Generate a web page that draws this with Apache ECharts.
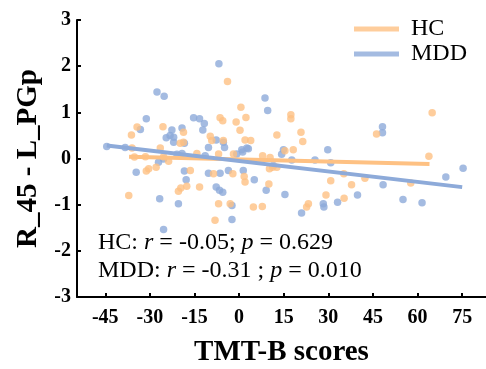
<!DOCTYPE html>
<html>
<head>
<meta charset="utf-8">
<script src="https://cdn.jsdelivr.net/npm/echarts@6/dist/echarts.min.js"></script>
<style>
  html, body { margin: 0; padding: 0; background: #fff; }
  #chart { width: 486px; height: 369px; }
</style>
</head>
<body>
<div id="chart"></div>
<script>
// HC group: [TMT-B score, connectivity]
const hcPoints = [
  [-34.3, 0.68], [-36.2, 0.51], [-25.6, 0.69], [-36.0, 0.23], [-26.5, 0.23],
  [-3.9, 1.67], [-6.4, 0.88], [-5.5, 0.82], [0.6, 1.11], [0.3, 0.61],
  [-18.7, 0.57], [-18.7, 0.35], [-19.8, 0.33], [-9.7, 0.48], [-9.2, 0.39],
  [-5.3, 0.39], [-1.0, 0.79], [2.3, 0.89], [17.4, 0.95], [17.4, 0.86],
  [12.7, 0.51], [20.8, 0.57], [21.4, 0.37], [2.0, 0.40], [3.9, 0.39],
  [18.2, 0.19], [64.9, 0.99], [46.2, 0.53], [63.8, 0.05], [7.9, 0.06],
  [10.4, 0.02], [10.2, -0.22], [12.7, -0.19], [11.3, -0.19], [2.0, -0.51],
  [1.7, -0.39], [-2.1, -0.33], [10.0, -0.55], [35.2, -0.33], [42.3, -0.43],
  [30.8, -0.48], [37.8, -0.57], [57.7, -0.53], [29.2, -0.79], [35.3, -0.86],
  [23.3, -0.98], [22.7, -1.05], [4.8, -1.05], [7.8, -1.04], [-35.2, 0.03],
  [-31.5, 0.04], [-25.4, 0.04], [-23.7, -0.06], [-31.2, -0.27], [-30.4, -0.22],
  [-27.9, -0.19], [-16.4, -0.26], [-20.4, -0.71], [-17.6, -0.60], [-13.3, -0.62],
  [-37.1, -0.80], [-8.6, -0.33], [-6.9, -0.98], [-3.0, -0.98], [-8.1, -1.34],
  [-14.2, 0.11], [-6.9, 0.10], [-1.9, 0.10], [15.4, 0.17], [-19.6, -0.64]
];

// MDD group
const mddPoints = [
  [-44.5, 0.26], [-38.3, 0.24], [-27.6, 1.44], [-25.2, 1.35], [-31.2, 0.86],
  [-33.2, 0.63], [-24.5, 0.45], [-22.6, 0.62], [-23.2, 0.50], [-22.0, 0.46],
  [-19.2, 0.66], [-18.4, 0.33], [-15.3, 0.88], [-13.3, 0.86], [-11.7, 0.76],
  [-12.2, 0.62], [-10.3, 0.24], [-7.7, 0.40], [-6.8, 2.05], [-4.9, 0.24],
  [0.9, 0.19], [2.6, 0.23], [8.7, 1.31], [9.6, 1.04], [14.9, 0.19],
  [14.3, 0.09], [29.8, 0.19], [25.5, -0.03], [30.8, -0.09], [17.7, -0.03],
  [48.2, 0.69], [48.2, 0.56], [75.3, -0.21], [69.5, -0.40], [11.5, -0.15],
  [1.4, -0.26], [5.1, -0.46], [9.1, -0.69], [48.4, -0.57], [15.4, -0.78],
  [39.8, -0.79], [55.1, -0.89], [61.5, -0.96], [33.1, -0.95], [28.3, -0.98],
  [28.5, -1.05], [21.0, -1.18], [-27.1, -0.08], [-34.6, -0.30], [-18.4, -0.27],
  [-17.8, -0.46], [-26.7, -0.87], [-20.4, -0.98], [-25.4, -1.54], [-10.3, -0.32],
  [-6.4, -0.32], [-3.6, -0.26], [-7.7, -0.62], [-6.6, -0.69], [-5.5, -0.73],
  [-2.4, -1.02], [-2.4, -1.32], [-20.9, 0.09], [-19.2, 0.11], [-11.4, 0.06],
  [-0.8, 0.10], [-5.3, 0.35], [-22.0, 0.35], [-25.4, -0.01], [1.2, 0.14],
  [3.1, 0.21]
];

// fitted regression lines (endpoints)
const hcFit = [[-37, 0.04], [64, -0.12]];
const mddFit = [[-44.5, 0.28], [75, -0.62]];

const xTicks = [-45, -30, -15, 0, 15, 30, 45, 60, 75];
const statsLines = [
  ["HC: ", "r", " = -0.05; ", "p", " = 0.629"],
  ["MDD: ", "r", " = -0.31 ; ", "p", " = 0.010"]
];

const orange = "#FEC183";
const blue = "#8DAAD9";
const serif = "Liberation Serif, Times New Roman, serif";

const chart = echarts.init(document.getElementById("chart"), null, { renderer: "canvas" });

function statText(parts) {
  return parts.map((p, i) => (i % 2 === 1 ? "{it|" + p + "}" : "{n|" + p + "}")).join("");
}

const option = {
  animation: false,
  grid: { left: 77, right: 0, top: 20, bottom: 72, outerBoundsMode: "none" },
  legend: {
    right: 14,
    top: 12,
    orient: "vertical",
    itemWidth: 45,
    itemHeight: 5,
    itemGap: 1,
    icon: "rect",
    textStyle: { fontFamily: serif, fontSize: 24, color: "#000", padding: [0, 0, 0, 7] },
    data: ["HC", "MDD"]
  },
  xAxis: {
    type: "value",
    min: -54.5,
    max: 83,
    name: "TMT-B scores",
    nameLocation: "middle",
    nameGap: 41,
    nameTextStyle: { fontFamily: serif, fontSize: 29, fontWeight: "bold", color: "#000" },
    splitLine: { show: false },
    axisLine: { onZero: false, lineStyle: { color: "#000", width: 2 } },
    axisTick: { inside: true, length: 4, customValues: xTicks, lineStyle: { color: "#000", width: 2 } },
    axisLabel: {
      customValues: xTicks,
      margin: 11,
      fontFamily: serif,
      fontSize: 20,
      fontWeight: "bold",
      color: "#000"
    }
  },
  yAxis: {
    type: "value",
    min: -3,
    max: 3,
    interval: 1,
    name: "R_45 - L_PGp",
    nameLocation: "middle",
    nameGap: 34,
    nameTextStyle: { fontFamily: serif, fontSize: 29, fontWeight: "bold", color: "#000" },
    splitLine: { show: false },
    axisLine: { show: true, onZero: false, lineStyle: { color: "#000", width: 2 } },
    axisTick: { show: true, inside: true, length: 4, lineStyle: { color: "#000", width: 2 } },
    axisLabel: {
      margin: 6,
      fontFamily: serif,
      fontSize: 20,
      fontWeight: "bold",
      color: "#000"
    }
  },
  series: [
    {
      name: "MDD",
      type: "scatter",
      data: mddPoints,
      symbolSize: 7.5,
      itemStyle: { color: blue },
      z: 2
    },
    {
      name: "HC",
      type: "scatter",
      data: hcPoints,
      symbolSize: 7.5,
      itemStyle: { color: orange },
      z: 3
    },
    {
      name: "HC",
      type: "line",
      data: hcFit,
      symbol: "none",
      lineStyle: { color: orange, width: 4 },
      itemStyle: { color: orange },
      z: 4
    },
    {
      name: "MDD",
      type: "line",
      data: mddFit,
      symbol: "none",
      lineStyle: { color: blue, width: 4 },
      itemStyle: { color: blue },
      z: 5
    }
  ],
  graphic: statsLines.map((parts, i) => ({
    type: "text",
    left: 98,
    top: 231 + i * 28,
    z: 10,
    style: {
      text: statText(parts),
      rich: {
        n: { fontFamily: serif, fontSize: 24, color: "#000" },
        it: { fontFamily: serif, fontSize: 24, fontStyle: "italic", color: "#000" }
      }
    }
  }))
};

chart.setOption(option);
</script>
</body>
</html>
